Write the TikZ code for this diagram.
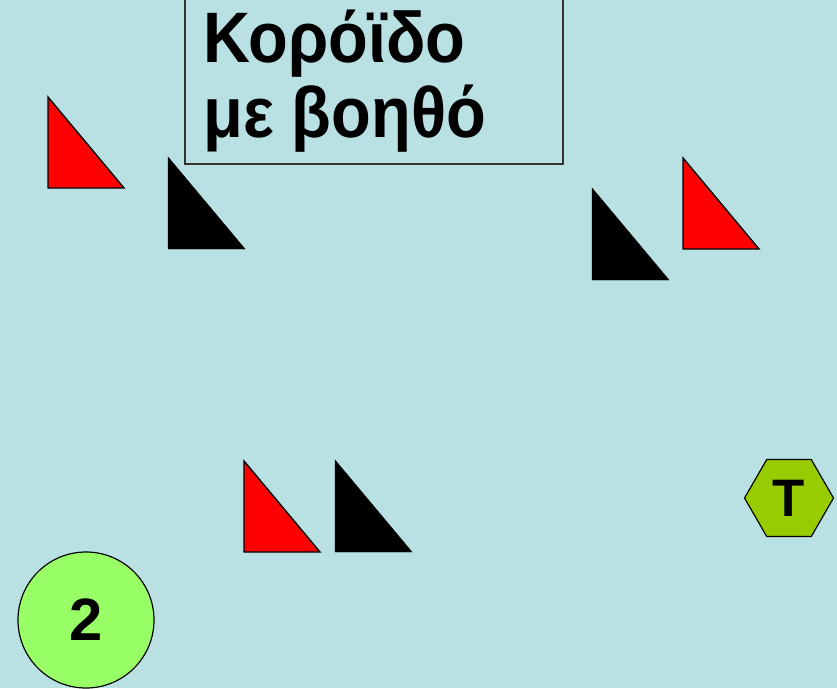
\documentclass[tikz,border=0pt]{standalone}
\usepackage{fontspec}
\setmainfont{Liberation Sans}
\newfontfamily\titlefont[FakeStretch=0.91]{Liberation Sans}
\usetikzlibrary{shapes.geometric, positioning}
\definecolor{SlideBlue}{RGB}{185,224,227}
\definecolor{TokenGreen}{RGB}{153,255,102}
\definecolor{HexGreen}{RGB}{153,204,0}
\tikzset{
  redtri/.style={fill=red,draw=black,line width=1.2pt,line join=miter},
  blacktri/.style={fill=black,draw=black,line width=0.4pt},
  bigtext/.style={font=\titlefont\bfseries\fontsize{61}{64}\selectfont,inner sep=0pt,anchor=base west}
}
\begin{document}
\begin{tikzpicture}[x=0.03cm,y=-0.03cm]
        % Background
        \fill[SlideBlue] (0,0) rectangle (837,688);
        \useasboundingbox (0,0) rectangle (837,688);
        % Title box
        \draw[black!80,line width=0.9pt] (185,-5) rectangle (563,164);
        \node[bigtext] (line1) at (203,62) {Κορόϊδο};
        \node[bigtext] (line2) at (203,137) {με βοηθό};
        % Red players
        \foreach \x/\y in {48/188,683/249,244/552}{
          \draw[redtri] (\x,\y) -- (\x,\y-91) -- (\x+76,\y) -- cycle;
        }
        % Black players
        \foreach \x/\y in {168/249,592/280,335/552}{
          \draw[blacktri] (\x,\y) -- (\x,\y-92) -- (\x+77,\y) -- cycle;
        }
        % Tokens
        \node[circle,draw=black,line width=1pt,fill=TokenGreen,minimum size=4.08cm,inner sep=0pt,
          font=\bfseries\fontsize{51}{60}\selectfont] (two) at (86,620) {2};
        \node[regular polygon,regular polygon sides=6,draw=black,line width=1pt,fill=HexGreen,
          minimum size=2.67cm,inner sep=0pt,font=\bfseries\fontsize{45}{54}\selectfont] (tee) at (789,498) {T};
      \end{tikzpicture}
\end{document}
